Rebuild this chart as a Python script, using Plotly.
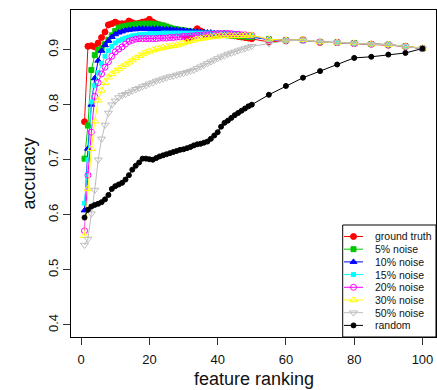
import plotly.graph_objects as go

# ---------------- data ----------------
x_vals = list(range(1, 51)) + [55, 60, 65, 70, 75, 80, 85, 90, 95, 100]

ground_truth = [0.769, 0.906, 0.907, 0.905, 0.912, 0.922, 0.932, 0.945, 0.947, 0.950,
                0.947, 0.947, 0.947, 0.952, 0.949, 0.947, 0.948, 0.950, 0.951, 0.955,
                0.950, 0.947, 0.945, 0.943, 0.941, 0.939, 0.937, 0.935, 0.932, 0.927,
                0.921, 0.922, 0.931, 0.938, 0.934, 0.930, 0.928, 0.927, 0.927, 0.927,
                0.928, 0.929, 0.928, 0.926, 0.925, 0.924, 0.923, 0.922, 0.921, 0.920,
                0.914, 0.916, 0.918, 0.913, 0.913, 0.911, 0.910, 0.908, 0.906, 0.902]

noise5 = [0.702, 0.762, 0.863, 0.890, 0.899, 0.903, 0.910, 0.918, 0.926, 0.934,
          0.940, 0.942, 0.943, 0.944, 0.945, 0.946, 0.946, 0.947, 0.947, 0.947,
          0.947, 0.946, 0.945, 0.944, 0.942, 0.940, 0.938, 0.937, 0.936, 0.935,
          0.934, 0.933, 0.932, 0.931, 0.930, 0.929, 0.929, 0.928, 0.928, 0.927,
          0.927, 0.927, 0.926, 0.926, 0.925, 0.925, 0.924, 0.924, 0.923, 0.923,
          0.919, 0.917, 0.917, 0.914, 0.913, 0.912, 0.910, 0.909, 0.906, 0.902]

noise10 = [0.608, 0.720, 0.800, 0.848, 0.880, 0.898, 0.908, 0.916, 0.923, 0.928,
           0.931, 0.933, 0.935, 0.936, 0.937, 0.937, 0.938, 0.938, 0.938, 0.938,
           0.938, 0.938, 0.938, 0.937, 0.937, 0.937, 0.936, 0.936, 0.935, 0.935,
           0.934, 0.934, 0.933, 0.933, 0.932, 0.932, 0.931, 0.931, 0.930, 0.930,
           0.929, 0.929, 0.929, 0.928, 0.928, 0.927, 0.926, 0.925, 0.925, 0.924,
           0.918, 0.917, 0.917, 0.914, 0.913, 0.911, 0.910, 0.909, 0.906, 0.902]

noise15 = [0.621, 0.700, 0.805, 0.835, 0.858, 0.875, 0.888, 0.898, 0.906, 0.912,
           0.916, 0.919, 0.921, 0.923, 0.925, 0.926, 0.927, 0.928, 0.928, 0.929,
           0.929, 0.929, 0.929, 0.930, 0.930, 0.930, 0.930, 0.930, 0.930, 0.930,
           0.930, 0.930, 0.930, 0.930, 0.930, 0.930, 0.930, 0.930, 0.930, 0.930,
           0.930, 0.929, 0.929, 0.929, 0.929, 0.928, 0.927, 0.926, 0.925, 0.925,
           0.918, 0.917, 0.917, 0.914, 0.913, 0.911, 0.910, 0.909, 0.906, 0.902]

noise20 = [0.571, 0.672, 0.750, 0.815, 0.840, 0.856, 0.868, 0.878, 0.888, 0.896,
           0.901, 0.905, 0.910, 0.915, 0.917, 0.919, 0.920, 0.920, 0.920, 0.920,
           0.920, 0.920, 0.921, 0.921, 0.921, 0.922, 0.922, 0.923, 0.923, 0.924,
           0.924, 0.925, 0.925, 0.926, 0.926, 0.927, 0.927, 0.928, 0.928, 0.929,
           0.929, 0.929, 0.929, 0.929, 0.928, 0.928, 0.927, 0.927, 0.926, 0.926,
           0.918, 0.917, 0.917, 0.914, 0.913, 0.911, 0.910, 0.909, 0.906, 0.902]

noise30 = [0.562, 0.647, 0.720, 0.770, 0.808, 0.826, 0.840, 0.850, 0.856, 0.861,
           0.865, 0.869, 0.873, 0.877, 0.881, 0.885, 0.889, 0.892, 0.895, 0.897,
           0.899, 0.901, 0.902, 0.904, 0.905, 0.906, 0.907, 0.908, 0.910, 0.912,
           0.914, 0.916, 0.917, 0.919, 0.920, 0.921, 0.922, 0.923, 0.924, 0.924,
           0.925, 0.925, 0.925, 0.925, 0.925, 0.925, 0.925, 0.926, 0.926, 0.926,
           0.919, 0.917, 0.918, 0.914, 0.913, 0.912, 0.910, 0.909, 0.906, 0.903]

noise50 = [0.545, 0.556, 0.602, 0.645, 0.700, 0.738, 0.763, 0.785, 0.800, 0.807,
           0.813, 0.817, 0.819, 0.822, 0.825, 0.828, 0.830, 0.833, 0.835, 0.838,
           0.840, 0.843, 0.845, 0.847, 0.849, 0.851, 0.852, 0.854, 0.856, 0.857,
           0.859, 0.861, 0.863, 0.866, 0.869, 0.872, 0.875, 0.878, 0.881, 0.884,
           0.887, 0.889, 0.892, 0.894, 0.896, 0.898, 0.900, 0.902, 0.904, 0.906,
           0.911, 0.916, 0.917, 0.914, 0.913, 0.911, 0.910, 0.909, 0.906, 0.902]

random_rank = [0.595, 0.609, 0.615, 0.618, 0.620, 0.623, 0.628, 0.636, 0.647, 0.652,
               0.655, 0.658, 0.664, 0.672, 0.682, 0.689, 0.695, 0.702, 0.702, 0.701,
               0.700, 0.703, 0.706, 0.708, 0.710, 0.712, 0.714, 0.716, 0.718, 0.719,
               0.721, 0.723, 0.726, 0.728, 0.729, 0.731, 0.733, 0.738, 0.744, 0.750,
               0.760, 0.767, 0.771, 0.776, 0.781, 0.785, 0.789, 0.793, 0.797, 0.800,
               0.818, 0.834, 0.849, 0.861, 0.873, 0.885, 0.887, 0.891, 0.894, 0.902]

series_names = ["ground truth", "5% noise", "10% noise", "15% noise",
                "20% noise", "30% noise", "50% noise", "random"]
series_values = [ground_truth, noise5, noise10, noise15, noise20, noise30, noise50, random_rank]

x_ticks = [0, 20, 40, 60, 80, 100]
y_ticks = [0.4, 0.5, 0.6, 0.7, 0.8, 0.9]

# ---------------- styles ----------------
styles = [
    dict(color="#FF0000", symbol="circle", size=6),
    dict(color="#00C800", symbol="square", size=5),
    dict(color="#0000FF", symbol="triangle-up", size=6),
    dict(color="#00FFFF", symbol="square", size=4),
    dict(color="#FF00FF", symbol="circle-open", size=6),
    dict(color="#FFFF00", symbol="triangle-up-open", size=7),
    dict(color="#BEBEBE", symbol="triangle-down-open", size=7),
    dict(color="#000000", symbol="circle", size=5),
]

fig = go.Figure()
for name, vals, st in zip(series_names, series_values, styles):
    fig.add_trace(go.Scatter(
        x=x_vals, y=vals, mode="lines+markers", name=name, showlegend=False,
        line=dict(color=st["color"], width=1),
        marker=dict(color=st["color"], symbol=st["symbol"], size=st["size"],
                    line=dict(color=st["color"], width=1)),
    ))

# ---------------- manual legend (R style) ----------------
W, H = 437, 390
ML, MR, MT, MB = 71, 1, 10, 53
PW, PH = W - ML - MR, H - MT - MB


def px_x(p):
    return (p - ML) / PW


def px_y(p):
    return (H - MB - p) / PH


leg_left, leg_top = 342.7, 225
row0, row_step = 236.5, 12.7
for i, (name, st) in enumerate(zip(series_names, styles)):
    yy = px_y(row0 + i * row_step)
    fig.add_trace(go.Scatter(
        x=[px_x(344), px_x(353.5), px_x(363)], y=[yy, yy, yy],
        xaxis="x2", yaxis="y2", mode="lines", showlegend=False, hoverinfo="skip",
        line=dict(color=st["color"], width=1)))
    fig.add_trace(go.Scatter(
        x=[px_x(353.5)], y=[yy], xaxis="x2", yaxis="y2", mode="markers",
        showlegend=False, hoverinfo="skip",
        marker=dict(color=st["color"], symbol=st["symbol"], size=st["size"],
                    line=dict(color=st["color"], width=1))))
    fig.add_annotation(x=px_x(372.5), y=yy, xref="paper", yref="paper", text=name,
                       showarrow=False, xanchor="left", yanchor="middle",
                       font=dict(size=10.5, color="#111"))

fig.add_shape(type="rect", xref="paper", yref="paper",
              x0=px_x(leg_left), x1=1, y0=0, y1=px_y(leg_top),
              line=dict(color="black", width=1), fillcolor="rgba(0,0,0,0)", layer="above")

# axis titles
fig.add_annotation(x=0.5, y=px_y(379), xref="paper", yref="paper", text="feature ranking",
                   showarrow=False, xanchor="center", yanchor="middle",
                   font=dict(size=18, color="#111"))
fig.add_annotation(x=px_x(28), y=0.5, xref="paper", yref="paper", text="accuracy",
                   showarrow=False, xanchor="center", yanchor="middle", textangle=-90,
                   font=dict(size=18, color="#111"))

fig.update_layout(
    width=W, height=H,
    margin=dict(l=ML, r=MR, t=MT, b=MB),
    paper_bgcolor="white", plot_bgcolor="white",
    font=dict(family="Liberation Sans, Arial, sans-serif", color="#111"),
    xaxis=dict(range=[-2.96, 103.96], tickvals=x_ticks, ticks="outside", ticklen=7,
               tickcolor="#333", tickfont=dict(size=13), showgrid=False, zeroline=False,
               showline=True, linecolor="black", linewidth=1, mirror=True,
               ticklabelstandoff=3),
    yaxis=dict(range=[0.378, 0.972], tickvals=y_ticks, ticktext=[str(v) for v in y_ticks],
               ticks="outside", ticklen=7, tickcolor="#333", tickfont=dict(size=13),
               tickangle=-90, showgrid=False, zeroline=False,
               showline=True, linecolor="black", linewidth=1, mirror=True),
    xaxis2=dict(overlaying="x", range=[0, 1], visible=False),
    yaxis2=dict(overlaying="y", range=[0, 1], visible=False),
)

fig.write_html("out.html")
